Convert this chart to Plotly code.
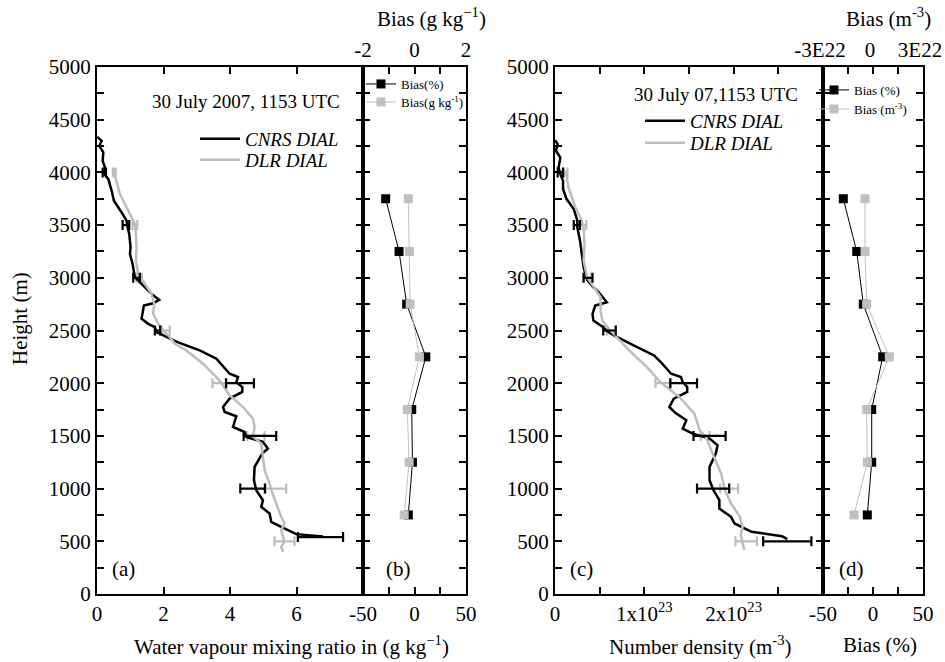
import plotly.graph_objects as go

SERIF = "Liberation Serif"
BLACK = "#000000"
GREY = "#bdbdbd"

# ---- (a) water vapour mixing ratio profiles (g/kg vs height in m) ----
a_cnrs_h = [4337, 4300, 4250, 4190, 4110, 4046, 3990, 3936, 3826, 3731, 3620, 3542, 3494, 3416,
            3289, 3226, 3131, 3005, 2926, 2847, 2790, 2758, 2737, 2611, 2563, 2531, 2484, 2390,
            2311, 2232, 2090, 2058, 2010, 1964, 1917, 1854, 1774, 1727, 1686, 1585, 1537, 1490,
            1443, 1380, 1332, 1206, 1080, 985, 890, 827, 764, 685, 637, 568, 545]
a_cnrs_q = [0.01, 0.14, 0.07, 0.19, 0.17, 0.24, 0.21, 0.34, 0.44, 0.51, 0.74, 0.89, 0.91, 0.97,
            1.01, 0.99, 1.07, 1.14, 1.39, 1.64, 1.87, 1.69, 1.41, 1.34, 1.54, 1.74, 1.79, 2.42,
            3.09, 3.59, 3.99, 4.24, 4.19, 4.37, 4.37, 3.99, 3.79, 3.84, 4.19, 4.09, 4.44, 4.49,
            4.99, 5.14, 4.97, 4.74, 4.72, 4.79, 4.99, 4.94, 5.19, 5.24, 5.54, 5.99, 6.80]

a_dlr_h = [4031, 3968, 3794, 3636, 3510, 3416, 3289, 3163, 3037, 2942, 2847, 2753, 2658, 2563,
           2484, 2437, 2374, 2311, 2185, 2058, 2001, 1884, 1774, 1664, 1585, 1496, 1427, 1300,
           1174, 1048, 991, 859, 732, 669, 606, 495, 448, 401]
a_dlr_q = [0.51, 0.54, 0.69, 0.94, 1.14, 1.17, 1.19, 1.17, 1.24, 1.44, 1.64, 1.72, 1.69, 1.84,
           2.04, 2.19, 2.34, 2.69, 3.19, 3.59, 3.74, 3.99, 4.39, 4.69, 4.74, 4.69, 4.94, 4.99,
           5.04, 5.19, 5.24, 5.39, 5.54, 5.64, 5.54, 5.64, 5.54, 5.59]

a_cnrs_err_h = [4000, 3500, 3000, 2500, 2000, 1500, 1000, 540]
a_cnrs_err_q = [0.22, 0.87, 1.19, 1.82, 4.30, 4.90, 4.68, 6.72]
a_cnrs_err = [0.05, 0.10, 0.10, 0.08, 0.42, 0.49, 0.37, 0.68]

a_dlr_err_h = [4000, 3500, 3000, 2500, 2000, 1500, 1000, 500]
a_dlr_err_q = [0.52, 1.14, 1.27, 2.07, 3.68, 4.78, 5.38, 5.64]
a_dlr_err = [0.04, 0.07, 0.08, 0.12, 0.21, 0.26, 0.31, 0.30]

# ---- (b) bias of the water vapour mixing ratio ----
bias_h = [3750, 3250, 2750, 2250, 1750, 1250, 750]
b_bias_pct = [-28.0, -15.0, -7.6, 11.0, -2.7, -2.0, -6.0]
b_bias_gkg = [-0.24, -0.20, -0.17, 0.19, -0.28, -0.21, -0.40]

# ---- (c) number density profiles (m^-3 vs height in m) ----
c_cnrs_h = [4305, 4268, 4205, 4141, 4046, 3984, 3920, 3842, 3747, 3652, 3542, 3478, 3352, 3226,
            3100, 2980, 2910, 2863, 2768, 2737, 2658, 2595, 2531, 2494, 2453, 2358, 2263, 2185,
            2090, 2058, 2010, 1964, 1917, 1854, 1774, 1717, 1648, 1569, 1522, 1474, 1411, 1332,
            1206, 1080, 991, 890, 811, 732, 669, 590, 549, 520]
c_cnrs_n = [0.00e23, 0.03e23, 0.01e23, 0.06e23, 0.04e23, 0.06e23, 0.09e23, 0.09e23, 0.13e23,
            0.21e23, 0.25e23, 0.25e23, 0.28e23, 0.30e23, 0.32e23, 0.36e23, 0.43e23, 0.49e23,
            0.58e23, 0.45e23, 0.42e23, 0.43e23, 0.54e23, 0.58e23, 0.66e23, 0.88e23, 1.11e23,
            1.20e23, 1.30e23, 1.41e23, 1.43e23, 1.48e23, 1.48e23, 1.33e23, 1.28e23, 1.35e23,
            1.47e23, 1.43e23, 1.54e23, 1.73e23, 1.82e23, 1.80e23, 1.73e23, 1.73e23, 1.77e23,
            1.84e23, 1.84e23, 1.97e23, 2.01e23, 2.20e23, 2.54e23, 2.60e23]

c_dlr_h = [4015, 3857, 3667, 3542, 3478, 3321, 3163, 3005, 2942, 2816, 2689, 2595, 2500, 2311,
           2153, 2010, 1869, 1711, 1553, 1490, 1300, 1143, 991, 859, 732, 637, 560, 495, 417]
c_dlr_n = [0.12e23, 0.15e23, 0.23e23, 0.30e23, 0.32e23, 0.33e23, 0.32e23, 0.36e23, 0.41e23,
           0.51e23, 0.51e23, 0.53e23, 0.62e23, 0.83e23, 1.03e23, 1.18e23, 1.39e23, 1.56e23,
           1.62e23, 1.69e23, 1.78e23, 1.86e23, 1.90e23, 1.97e23, 2.07e23, 2.10e23, 2.08e23,
           2.10e23, 2.12e23]

c_cnrs_err_h = [4000, 3500, 3000, 2500, 2000, 1500, 1000, 500]
c_cnrs_err_n = [0.06e23, 0.245e23, 0.37e23, 0.61e23, 1.44e23, 1.73e23, 1.77e23, 2.60e23]
c_cnrs_err = [0.03e23, 0.035e23, 0.05e23, 0.07e23, 0.15e23, 0.18e23, 0.18e23, 0.27e23]

c_dlr_err_h = [4000, 3500, 3000, 2500, 2000, 1500, 1000, 500]
c_dlr_err_n = [0.12e23, 0.31e23, 0.36e23, 0.63e23, 1.21e23, 1.68e23, 1.95e23, 2.14e23]
c_dlr_err = [0.02e23, 0.04e23, 0.04e23, 0.05e23, 0.085e23, 0.05e23, 0.10e23, 0.12e23]

# ---- (d) bias of the number density ----
d_bias_pct = [-29.7, -16.3, -9.7, 9.7, -1.3, -1.3, -5.7]
d_bias_m3 = [-0.48e22, -0.48e22, -0.38e22, 0.98e22, -0.38e22, -0.34e22, -1.14e22]

# ---- tick labels ----
height_ticks = [0, 500, 1000, 1500, 2000, 2500, 3000, 3500, 4000, 4500, 5000]
q_tickvals = [0, 2, 4, 6]
pct_tickvals = [-50, 0, 50]
pct_ticktext = ["-50", "0", "50"]
pct_minor = [-25, 25]
gkg_tickvals = [-2, 0, 2]
gkg_ticktext = ["-2", "0", "2"]
gkg_minor = [-1, 1]
nd_tickvals = [0, 1e23, 2e23]
nd_ticktext = ["0", "1x10<sup>23</sup>", "2x10<sup>23</sup>"]
nd_minor = [0.5e23, 1.5e23, 2.5e23]
m3_tickvals = [-3e22, 0, 3e22]
m3_ticktext = ["-3E22", "0", "3E22"]
m3_minor = [-1.5e22, 1.5e22]

# ---- panel geometry (paper fractions) ----
W, H = 945, 662
Y_DOM = [1 - 594 / H, 1 - 67 / H]
XA = [97 / W, 363 / W]
XB = [363 / W, 466 / W]
XC = [555 / W, 823 / W]
XD = [823 / W, 923 / W]

fig = go.Figure()


def profile(x, y, color, name, xa, ya, legend):
    fig.add_trace(go.Scatter(x=x, y=y, mode="lines", name=name, xaxis=xa, yaxis=ya,
                             line=dict(color=color, width=2.5), legend=legend))


def errbars(x, y, err, color, xa, ya):
    fig.add_trace(go.Scatter(x=x, y=y, mode="markers", xaxis=xa, yaxis=ya, showlegend=False,
                             marker=dict(size=0, color=color, opacity=0),
                             error_x=dict(type="data", array=err, color=color,
                                          thickness=2.2, width=5)))


def bias(x, y, color, name, xa, ya, legend):
    fig.add_trace(go.Scatter(x=x, y=y, mode="lines+markers", name=name, xaxis=xa, yaxis=ya,
                             legend=legend,
                             line=dict(color=color, width=1),
                             marker=dict(symbol="square", size=9, color=color)))


# (a)
errbars(a_dlr_err_q, a_dlr_err_h, a_dlr_err, GREY, "x", "y")
profile(a_cnrs_q, a_cnrs_h, BLACK, "<i>CNRS DIAL</i>", "x", "y", "legend")
profile(a_dlr_q, a_dlr_h, GREY, "<i>DLR DIAL</i>", "x", "y", "legend2")
errbars(a_cnrs_err_q, a_cnrs_err_h, a_cnrs_err, BLACK, "x", "y")

# (b)
bias(b_bias_gkg, bias_h, "#c0c0c0", "Bias(g kg<sup>-1</sup>)", "x3", "y2", "legend4")
bias(b_bias_pct, bias_h, BLACK, "Bias(%)", "x2", "y2", "legend3")

# (c)
errbars(c_dlr_err_n, c_dlr_err_h, c_dlr_err, GREY, "x4", "y3")
profile(c_cnrs_n, c_cnrs_h, BLACK, "<i>CNRS DIAL</i>", "x4", "y3", "legend5")
profile(c_dlr_n, c_dlr_h, GREY, "<i>DLR DIAL</i>", "x4", "y3", "legend6")
errbars(c_cnrs_err_n, c_cnrs_err_h, c_cnrs_err, BLACK, "x4", "y3")

# (d)
bias(d_bias_pct, bias_h, BLACK, "Bias (%)", "x5", "y4", "legend7")
bias(d_bias_m3, bias_h, "#c0c0c0", "Bias (m<sup>-3</sup>)", "x6", "y4", "legend8")

TICKFONT = dict(family=SERIF, size=21, color="black")
MINOR = dict(ticks="inside", ticklen=7, tickwidth=1.5, tickcolor="black")


def axis(**kw):
    base = dict(showline=True, linecolor="black", linewidth=2, ticks="inside", ticklen=7,
                tickwidth=1.5, tickcolor="black", showgrid=False, zeroline=False,
                tickfont=TICKFONT, fixedrange=True, automargin=False,
                ticklabeloverflow="allow")
    base.update(kw)
    return base


def value_axis(domain, rng, anchor, vals, text=None, minor=None, **kw):
    spec = dict(range=rng, anchor=anchor, tickmode="array", tickvals=vals)
    if domain is not None:
        spec["domain"] = domain
    if text is not None:
        spec["ticktext"] = text
    if minor is not None:
        spec["minor"] = dict(MINOR, tickmode="array", tickvals=minor)
    spec.update(kw)
    return axis(**spec)


def height_axis(anchor, labels):
    return axis(domain=Y_DOM, range=[0, 5000], anchor=anchor, tickmode="array",
                tickvals=height_ticks, showticklabels=labels, mirror="ticks",
                minor=dict(MINOR, dtick=250, tick0=0))


def legend_box(x, y, size, itemwidth):
    return dict(bgcolor="rgba(0,0,0,0)", borderwidth=0, xanchor="left", yanchor="top",
                x=x / W, y=1 - y / H, itemwidth=itemwidth,
                font=dict(family=SERIF, size=size, color="black"))


fig.update_layout(
    width=W, height=H, margin=dict(l=0, r=0, t=0, b=0, pad=0, autoexpand=False),
    paper_bgcolor="white", plot_bgcolor="white",
    font=dict(family=SERIF, color="black"),
    xaxis=value_axis(XA, [0, 8], "y", q_tickvals, mirror="ticks"),
    yaxis=height_axis("x", True),
    xaxis2=value_axis(XB, [-50, 50], "y2", pct_tickvals, pct_ticktext, pct_minor, mirror=True),
    xaxis3=value_axis(None, [-2, 2], "y2", gkg_tickvals, gkg_ticktext, gkg_minor,
                      overlaying="x2", side="top"),
    yaxis2=height_axis("x2", False),
    xaxis4=value_axis(XC, [0, 3e23], "y3", nd_tickvals, nd_ticktext, nd_minor, mirror="ticks"),
    yaxis3=height_axis("x4", True),
    xaxis5=value_axis(XD, [-50, 50], "y4", pct_tickvals, pct_ticktext, pct_minor, mirror=True),
    xaxis6=value_axis(None, [-3e22, 3e22], "y4", m3_tickvals, m3_ticktext, m3_minor,
                      overlaying="x5", side="top", ticklabelshift=-3),
    yaxis4=height_axis("x5", False),
    legend=legend_box(195, 120, 19, 40),
    legend2=legend_box(195, 141, 19, 40),
    legend3=legend_box(361, 69, 13, 30),
    legend4=legend_box(361, 87, 13, 30),
    legend5=legend_box(640, 102, 19, 40),
    legend6=legend_box(640, 124, 19, 40),
    legend7=legend_box(814, 75, 13, 30),
    legend8=legend_box(814, 94, 13, 30),
)


def note(text, x, y, size=21, angle=0):
    fig.add_annotation(text=text, x=x / W, y=1 - y / H, xref="paper", yref="paper",
                       showarrow=False, textangle=angle, xanchor="center", yanchor="middle",
                       font=dict(family=SERIF, size=size, color="black"))


note("Bias (g kg<sup>\u22121</sup>)", 431, 18)
note("Bias (m<sup>-3</sup>)", 888, 18)
note("Water vapour mixing ratio in (g kg<sup>\u22121</sup>)", 291, 645)
note("Number density (m<sup>-3</sup>)", 700, 645)
note("Bias (%)", 880, 645)
note("Height (m)", 20, 319, angle=-90)
note("30 July 2007, 1153 UTC", 246, 101, size=19)
note("30 July 07,1153 UTC", 716, 95, size=19)
note("(a)", 123, 569)
note("(b)", 398, 569)
note("(c)", 581, 569)
note("(d)", 851, 569)

fig.write_html("out.html")
